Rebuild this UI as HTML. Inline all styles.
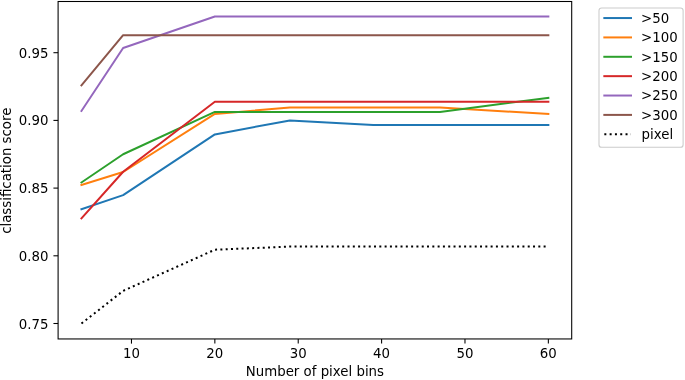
<!DOCTYPE html>
<html><head><meta charset="utf-8"><title>classification score vs number of pixel bins</title>
<style>html,body{margin:0;padding:0;background:#fff;}svg{display:block;}text{font-family:'DejaVu Sans','Liberation Sans',sans-serif;font-size:13.33px;fill:#000;}</style>
</head><body>
<svg width="685" height="380" viewBox="0 0 685 380">
<rect x="0" y="0" width="685" height="380" fill="#ffffff"/>
<defs><filter id="soft" x="0" y="0" width="685" height="380" filterUnits="userSpaceOnUse" color-interpolation-filters="sRGB"><feGaussianBlur stdDeviation="0.3"/></filter></defs>
<polyline points="81.45,209.11 123.13,195.10 214.85,134.41 289.89,120.40 373.26,125.07 439.96,125.07 548.35,125.07" fill="none" stroke="#1f77b4" stroke-width="2.00" stroke-linecap="square" stroke-linejoin="round"/>
<polyline points="81.45,184.88 123.13,171.98 214.85,113.95 289.89,107.50 373.26,107.50 439.96,107.50 548.35,113.95" fill="none" stroke="#ff7f0e" stroke-width="2.00" stroke-linecap="square" stroke-linejoin="round"/>
<polyline points="81.45,182.46 123.13,154.25 214.85,111.94 289.89,111.94 373.26,111.94 439.96,111.94 548.35,97.83" fill="none" stroke="#2ca02c" stroke-width="2.00" stroke-linecap="square" stroke-linejoin="round"/>
<polyline points="81.45,218.45 123.13,171.76 214.85,101.72 289.89,101.72 373.26,101.72 439.96,101.72 548.35,101.72" fill="none" stroke="#d62728" stroke-width="2.00" stroke-linecap="square" stroke-linejoin="round"/>
<polyline points="81.45,110.95 123.13,47.98 214.85,16.49 289.89,16.49 373.26,16.49 439.96,16.49 548.35,16.49" fill="none" stroke="#9467bd" stroke-width="2.00" stroke-linecap="square" stroke-linejoin="round"/>
<polyline points="81.45,85.30 123.13,35.15 214.85,35.15 289.89,35.15 373.26,35.15 439.96,35.15 548.35,35.15" fill="none" stroke="#8c564b" stroke-width="2.00" stroke-linecap="square" stroke-linejoin="round"/>
<polyline points="81.45,323.50 123.13,290.87 214.85,249.71 289.89,246.59 373.26,246.46 439.96,246.46 548.35,246.46" fill="none" stroke="#000" stroke-width="2.00" stroke-dasharray="2.00 3.30" stroke-linejoin="round"/>
<rect x="58.10" y="1.50" width="513.60" height="337.45" fill="none" stroke="#000" stroke-width="1.07" stroke-linejoin="miter"/>
<line x1="131.47" y1="338.95" x2="131.47" y2="343.62" stroke="#000" stroke-width="1.07"/>
<line x1="214.85" y1="338.95" x2="214.85" y2="343.62" stroke="#000" stroke-width="1.07"/>
<line x1="298.22" y1="338.95" x2="298.22" y2="343.62" stroke="#000" stroke-width="1.07"/>
<line x1="381.60" y1="338.95" x2="381.60" y2="343.62" stroke="#000" stroke-width="1.07"/>
<line x1="464.98" y1="338.95" x2="464.98" y2="343.62" stroke="#000" stroke-width="1.07"/>
<line x1="548.35" y1="338.95" x2="548.35" y2="343.62" stroke="#000" stroke-width="1.07"/>
<line x1="53.43" y1="323.50" x2="58.10" y2="323.50" stroke="#000" stroke-width="1.07"/>
<line x1="53.43" y1="255.80" x2="58.10" y2="255.80" stroke="#000" stroke-width="1.07"/>
<line x1="53.43" y1="188.10" x2="58.10" y2="188.10" stroke="#000" stroke-width="1.07"/>
<line x1="53.43" y1="120.40" x2="58.10" y2="120.40" stroke="#000" stroke-width="1.07"/>
<line x1="53.43" y1="52.70" x2="58.10" y2="52.70" stroke="#000" stroke-width="1.07"/>
<rect x="599.00" y="7.95" width="84.10" height="139.35" rx="2.67" ry="2.67" fill="#fff" fill-opacity="0.8" stroke="#cccccc" stroke-opacity="1" stroke-width="1.07"/>
<line x1="604.33" y1="18.05" x2="630.99" y2="18.05" stroke="#1f77b4" stroke-width="2.00" stroke-linecap="square"/>
<line x1="604.33" y1="37.42" x2="630.99" y2="37.42" stroke="#ff7f0e" stroke-width="2.00" stroke-linecap="square"/>
<line x1="604.33" y1="56.79" x2="630.99" y2="56.79" stroke="#2ca02c" stroke-width="2.00" stroke-linecap="square"/>
<line x1="604.33" y1="76.16" x2="630.99" y2="76.16" stroke="#d62728" stroke-width="2.00" stroke-linecap="square"/>
<line x1="604.33" y1="95.53" x2="630.99" y2="95.53" stroke="#9467bd" stroke-width="2.00" stroke-linecap="square"/>
<line x1="604.33" y1="114.90" x2="630.99" y2="114.90" stroke="#8c564b" stroke-width="2.00" stroke-linecap="square"/>
<line x1="604.33" y1="134.27" x2="630.99" y2="134.27" stroke="#000" stroke-width="2.00" stroke-dasharray="2.00 3.30"/>
<g filter="url(#soft)">
<text x="131.47" y="358.20" text-anchor="middle">10</text>
<text x="214.85" y="358.20" text-anchor="middle">20</text>
<text x="298.22" y="358.20" text-anchor="middle">30</text>
<text x="381.60" y="358.20" text-anchor="middle">40</text>
<text x="464.98" y="358.20" text-anchor="middle">50</text>
<text x="548.35" y="358.20" text-anchor="middle">60</text>
<text x="48.40" y="328.55" text-anchor="end">0.75</text>
<text x="48.40" y="260.85" text-anchor="end">0.80</text>
<text x="48.40" y="193.15" text-anchor="end">0.85</text>
<text x="48.40" y="125.45" text-anchor="end">0.90</text>
<text x="48.40" y="57.75" text-anchor="end">0.95</text>
<text x="314.90" y="376.00" text-anchor="middle">Number of pixel bins</text>
<text transform="translate(10.90,170.72) rotate(-90)" text-anchor="middle">classification score</text>
<text x="641.10" y="23.00">&gt;50</text>
<text x="641.10" y="42.00">&gt;100</text>
<text x="641.10" y="62.00">&gt;150</text>
<text x="641.10" y="81.00">&gt;200</text>
<text x="641.10" y="100.00">&gt;250</text>
<text x="641.10" y="120.00">&gt;300</text>
<text x="641.60" y="139.00">pixel</text>
</g>
</svg>
</body></html>
